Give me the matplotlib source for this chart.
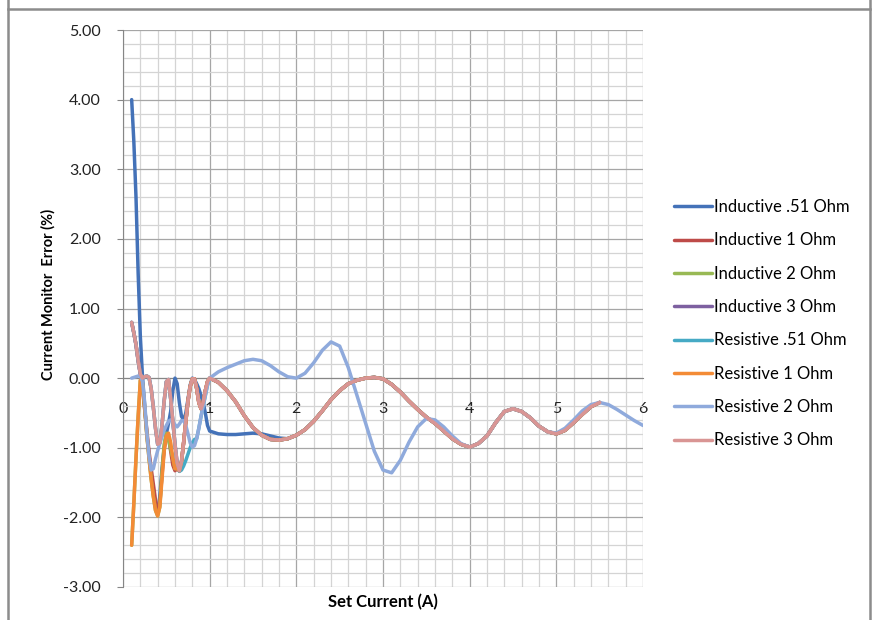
import matplotlib
matplotlib.use('Agg')
import matplotlib.pyplot as plt
from matplotlib.ticker import MultipleLocator, FormatStrFormatter
from matplotlib.lines import Line2D

plt.rcParams['font.family'] = ['Lato', 'DejaVu Sans']

# ---------------- data ----------------
head_x = [0.100, 0.125, 0.150, 0.175, 0.200, 0.225, 0.250, 0.275, 0.300,
          0.325, 0.350, 0.375, 0.400, 0.425, 0.450, 0.475, 0.500, 0.525,
          0.550, 0.575, 0.600, 0.625, 0.650, 0.675, 0.700, 0.725, 0.750,
          0.775, 0.800, 0.825, 0.850, 0.875, 0.900, 0.925, 0.950, 0.975]

tail_x = [1.0, 1.1, 1.2, 1.3, 1.4, 1.5, 1.6, 1.7, 1.8, 1.9,
          2.0, 2.1, 2.2, 2.3, 2.4, 2.5, 2.6, 2.7, 2.8, 2.9,
          3.0, 3.1, 3.2, 3.3, 3.4, 3.5, 3.6, 3.7, 3.8, 3.9,
          4.0, 4.1, 4.2, 4.3, 4.4, 4.5, 4.6, 4.7, 4.8, 4.9,
          5.0, 5.1, 5.2, 5.3, 5.4, 5.5, 5.6, 5.7, 5.8, 5.9, 6.0]

ind051_head = [4.00, 3.40, 2.60, 1.50, 0.60, 0.02, -0.40, -0.80, -1.10,
               -1.40, -1.65, -1.85, -1.92, -1.70, -1.30, -1.00, -0.80, -0.65,
               -0.48, -0.18, 0.00, -0.08, -0.35, -0.55, -0.60, -0.50, -0.30,
               -0.10, 0.00, -0.02, -0.08, -0.15, -0.25, -0.35, -0.50, -0.68]
ind051_tail = [-0.76, -0.80, -0.81, -0.81, -0.80, -0.79, -0.80, -0.83, -0.86, -0.87]

ind1_head = [0.80, 0.65, 0.48, 0.25, 0.06, -0.15, -0.45, -0.75, -1.05,
             -1.30, -1.52, -1.75, -1.94, -1.80, -1.40, -1.02, -0.82, -0.85,
             -1.05, -1.25, -1.33, -1.30, -1.33, -1.20, -0.92, -0.62, -0.33,
             -0.12, -0.01, -0.01, -0.15, -0.35, -0.44, -0.35, -0.18, -0.05]

ind2_head = [-2.40, -1.80, -1.15, -0.55, -0.03, -0.08, -0.42, -0.82, -1.15,
             -1.45, -1.70, -1.90, -1.98, -1.85, -1.35, -0.95, -0.79, -0.88,
             -1.02, -1.15, -1.30, -1.30, -1.33, -1.20, -0.92, -0.62, -0.33,
             -0.12, -0.01, -0.01, -0.15, -0.35, -0.44, -0.35, -0.18, -0.05]

res051_head = [0.80, 0.65, 0.48, 0.25, 0.06, 0.00, 0.02, 0.03, 0.01,
               -0.15, -0.42, -0.72, -0.95, -0.93, -0.68, -0.33, -0.05, -0.02,
               -0.30, -0.62, -0.95, -1.25, -1.34, -1.32, -1.26, -1.18, -1.09,
               -1.00, -0.93, -0.88, -0.87, -0.72, -0.55, -0.40, -0.25, -0.10]

res1_head = [-2.40, -1.80, -1.15, -0.55, -0.03, -0.08, -0.42, -0.82, -1.15,
             -1.45, -1.70, -1.90, -1.98, -1.85, -1.45, -1.05, -0.83, -0.79,
             -0.92, -1.15, -1.30, -1.30, -1.33, -1.20, -0.92, -0.62, -0.33,
             -0.12, -0.01, -0.01, -0.15, -0.35, -0.44, -0.35, -0.18, -0.05]

res2_head = [0.00, 0.01, 0.02, 0.03, 0.03, -0.05, -0.35, -0.78, -1.12,
             -1.32, -1.30, -1.16, -1.04, -0.94, -0.84, -0.75, -0.68, -0.62,
             -0.60, -0.62, -0.67, -0.70, -0.66, -0.61, -0.61, -0.68, -0.80,
             -0.93, -0.99, -0.97, -0.87, -0.72, -0.55, -0.40, -0.25, -0.10]
res2_tail = [0.00, 0.09, 0.15, 0.20, 0.25, 0.27, 0.25, 0.18, 0.09, 0.02,
             0.00, 0.07, 0.22, 0.40, 0.52, 0.46, 0.15, -0.25, -0.65, -1.05,
             -1.32, -1.36, -1.18, -0.92, -0.70, -0.58, -0.60, -0.70, -0.83, -0.94,
             -0.99, -0.94, -0.83, -0.64, -0.48, -0.44, -0.48, -0.57, -0.69, -0.77,
             -0.79, -0.72, -0.60, -0.47, -0.38, -0.35, -0.38, -0.45, -0.53, -0.61,
             -0.68]

res3_head = [0.80, 0.65, 0.48, 0.25, 0.06, 0.00, 0.02, 0.03, 0.01,
             -0.15, -0.42, -0.72, -0.95, -0.93, -0.68, -0.33, -0.05, -0.02,
             -0.30, -0.62, -0.95, -1.22, -1.33, -1.20, -0.92, -0.62, -0.33,
             -0.12, -0.01, -0.01, -0.15, -0.35, -0.44, -0.35, -0.18, -0.05]
res3_tail = [0.00, -0.06, -0.18, -0.34, -0.54, -0.71, -0.82, -0.88, -0.89, -0.87,
             -0.82, -0.74, -0.62, -0.47, -0.31, -0.18, -0.08, -0.03, 0.00, 0.01,
             -0.01, -0.09, -0.20, -0.33, -0.45, -0.56, -0.65, -0.76, -0.87, -0.95,
             -0.99, -0.94, -0.83, -0.64, -0.48, -0.44, -0.48, -0.57, -0.69, -0.77,
             -0.80, -0.75, -0.64, -0.52, -0.41, -0.35]
ind3_head = res3_head

labels = ['Inductive .51 Ohm', 'Inductive 1 Ohm', 'Inductive 2 Ohm',
          'Inductive 3 Ohm', 'Resistive .51 Ohm', 'Resistive 1 Ohm',
          'Resistive 2 Ohm', 'Resistive 3 Ohm']
colors = ['#4472B8', '#BE4B48', '#98B954', '#7D60A0',
          '#46AAC5', '#F38B36', '#8FAADC', '#D99594']

n_tail = len(res3_tail)
series = [
    (head_x + tail_x[:n_tail], ind051_head + ind051_tail + res3_tail[len(ind051_tail):]),
    (head_x + tail_x[:n_tail], ind1_head + res3_tail),
    (head_x + tail_x[:n_tail], ind2_head + res3_tail),
    (head_x + tail_x[:n_tail], ind3_head + res3_tail),
    (head_x + tail_x[:n_tail], res051_head + res3_tail),
    (head_x + tail_x[:n_tail], res1_head + res3_tail),
    (head_x + tail_x, res2_head + res2_tail),
    (head_x + tail_x[:n_tail], res3_head + res3_tail),
]

# ---------------- figure ----------------
fig = plt.figure(figsize=(8.8, 6.2), dpi=100)
ax = fig.add_axes([123/880, 1 - 587/620, (643-123)/880, (587-30)/620])

handles = []
for (xs, ys), lab, col in zip(series, labels, colors):
    h, = ax.plot(xs, ys, color=col, lw=2.5, label=lab,
                 solid_joinstyle='round', solid_capstyle='round', zorder=3)
    handles.append(h)

ax.set_xlim(0, 6)
ax.set_ylim(-3, 5)
ax.xaxis.set_major_locator(MultipleLocator(1))
ax.xaxis.set_minor_locator(MultipleLocator(0.2))
ax.yaxis.set_major_locator(MultipleLocator(1))
ax.yaxis.set_minor_locator(MultipleLocator(0.2))
ax.yaxis.set_major_formatter(FormatStrFormatter('%.2f'))
ax.xaxis.set_major_formatter(FormatStrFormatter('%d'))

ax.set_axisbelow(True)
ax.grid(which='major', color='#A6A6A6', lw=0.9)
ax.grid(which='minor', color='#D4D4D4', lw=0.9)

for s in ['top', 'right']:
    ax.spines[s].set_visible(False)
ax.spines['left'].set_color('#868686')
ax.spines['bottom'].set_position(('data', 0))
ax.spines['bottom'].set_color('#868686')

ax.tick_params(axis='y', which='major', direction='out', length=4,
               color='#868686', labelsize=11.5, pad=12, labelcolor='#222222')
ax.tick_params(axis='y', which='minor', length=0)
ax.tick_params(axis='x', which='both', length=0, labelsize=11.5, pad=17,
               labelcolor='#222222')

fig.text(48/880, 1 - 294/620, 'Current Monitor  Error (%)', rotation=90,
         ha='center', va='center', fontsize=10.5, fontweight='bold')
fig.text(383/880, 1 - 602/620, 'Set Current (A)', ha='center', va='center',
         fontsize=12, fontweight='bold')

fig.legend(handles=handles, labels=labels, loc='upper left',
           bbox_to_anchor=(674/880, 1 - 199/620), frameon=False,
           fontsize=12, handlelength=2.3, handletextpad=0.12,
           labelspacing=1.04, borderpad=0, borderaxespad=0)

# outer chart frame
fc = '#8C8C8C'
fig.add_artist(Line2D([8/880, 8/880], [0, 1], transform=fig.transFigure, color=fc, lw=1.8))
fig.add_artist(Line2D([870/880, 870/880], [0, 1], transform=fig.transFigure, color=fc, lw=1.8))
fig.add_artist(Line2D([8/880, 870/880], [1 - 9/620, 1 - 9/620], transform=fig.transFigure, color=fc, lw=1.8))

fig.savefig('out.png', dpi=100)
